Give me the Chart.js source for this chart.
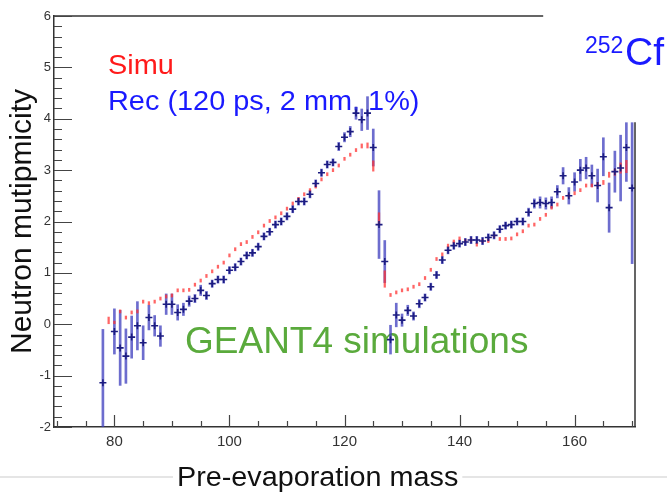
<!DOCTYPE html>
<html>
<head>
<meta charset="utf-8">
<script src="https://cdn.jsdelivr.net/npm/chart.js@4.4.1/dist/chart.umd.min.js"></script>
<style>
  html, body { margin: 0; padding: 0; background: #fff; }
</style>
</head>
<body>
<canvas id="chart" width="667" height="492"></canvas>
<script>
// Pre-evaporation mass bins (78 .. 170)
const masses = [78, 79, 80, 81, 82, 83, 84, 85, 86, 87, 88, 89, 90, 91, 92, 93, 94, 95, 96, 97,
  98, 99, 100, 101, 102, 103, 104, 105, 106, 107, 108, 109, 110, 111, 112, 113, 114, 115, 116, 117,
  118, 119, 120, 121, 122, 123, 124, 125, 126, 127, 128, 129, 130, 131, 132, 133, 134, 135, 136, 137,
  138, 139, 140, 141, 142, 143, 144, 145, 146, 147, 148, 149, 150, 151, 152, 153, 154, 155, 156, 157,
  158, 159, 160, 161, 162, 163, 164, 165, 166, 167, 168, 169, 170];

// Rec (120 ps, 2 mm, 1%) - blue crosses
const recValues = [-1.14, null, -0.14, -0.46, -0.62, -0.25, -0.03, -0.36, 0.13, -0.03, -0.23, 0.39, 0.39, 0.23, 0.29, 0.45, 0.50, 0.66, 0.56, 0.79,
  0.87, 0.87, 1.05, 1.11, 1.22, 1.34, 1.39, 1.51, 1.71, 1.80, 1.94, 2.00, 2.10, 2.24, 2.39, 2.39, 2.53, 2.74, 2.95, 3.11,
  3.15, 3.46, 3.64, 3.75, 4.11, 3.98, 4.11, 3.44, 1.94, 1.22, -0.30, 0.18, 0.08, 0.27, 0.16, 0.40, 0.52, 0.73, 0.96, 1.25,
  1.44, 1.53, 1.57, 1.60, 1.64, 1.64, 1.62, 1.69, 1.73, 1.85, 1.92, 1.94, 2.00, 2.00, 2.18, 2.35, 2.37, 2.35, 2.37, 2.58,
  2.89, 2.50, 2.77, 3.00, 3.04, 2.89, 2.70, 3.26, 2.27, 2.97, 3.04, 3.44, 2.65];
const recErrors = [1.04, null, 0.44, 0.73, 0.53, 0.41, 0.47, 0.33, 0.24, 0.20, 0.20, 0.20, 0.20, 0.15, 0.12, 0.10, 0.08, 0.10, 0.08, 0.07,
  0.07, 0.07, 0.07, 0.07, 0.07, 0.07, 0.07, 0.07, 0.07, 0.07, 0.07, 0.07, 0.07, 0.07, 0.07, 0.07, 0.07, 0.07, 0.07, 0.07,
  0.07, 0.08, 0.09, 0.10, 0.12, 0.21, 0.32, 0.36, 0.66, 0.41, 0.28, 0.23, 0.12, 0.10, 0.08, 0.08, 0.07, 0.07, 0.07, 0.07,
  0.07, 0.07, 0.07, 0.07, 0.07, 0.07, 0.07, 0.07, 0.07, 0.07, 0.07, 0.07, 0.07, 0.07, 0.08, 0.09, 0.11, 0.11, 0.11, 0.12,
  0.16, 0.16, 0.18, 0.21, 0.21, 0.21, 0.32, 0.37, 0.48, 0.40, 0.64, 0.66, 1.47];

// Simu - red points
const simuValues = [null, 0.07, 0.03, 0.25, 0.13, 0.23, 0.25, 0.44, 0.41, 0.44, 0.50, 0.54, 0.56, 0.66, 0.66, 0.67, 0.77, 0.85, 0.94, 1.03,
  1.12, 1.20, 1.34, 1.46, 1.56, 1.60, 1.70, 1.79, 1.92, 2.01, 2.08, 2.16, 2.25, 2.35, 2.44, 2.53, 2.61, 2.68, 2.82, 2.92,
  3.00, 3.09, 3.22, 3.30, 3.39, 3.47, 3.48, 3.08, 2.05, 0.88, 0.57, 0.62, 0.66, 0.68, 0.73, 0.78, 0.90, 1.06, 1.27, 1.36,
  1.53, 1.61, 1.67, 1.62, 1.64, 1.55, 1.62, 1.62, 1.72, 1.66, 1.66, 1.67, 1.75, 1.81, 1.92, 1.94, 2.05, 2.13, 2.27, 2.33,
  2.46, 2.50, 2.55, 2.61, 2.70, 2.70, 2.72, 2.76, 2.91, 2.96, 3.04, 3.07, null];
const simuErrors = [null, 0.07, 0.03, 0.03, 0.03, 0.03, 0.03, 0.03, 0.03, 0.03, 0.03, 0.03, 0.03, 0.03, 0.03, 0.03, 0.03, 0.03, 0.03, 0.03,
  0.03, 0.03, 0.03, 0.03, 0.03, 0.03, 0.03, 0.03, 0.03, 0.03, 0.03, 0.03, 0.03, 0.03, 0.03, 0.03, 0.03, 0.03, 0.03, 0.03,
  0.03, 0.03, 0.03, 0.03, 0.03, 0.04, 0.05, 0.10, 0.12, 0.16, 0.03, 0.03, 0.03, 0.03, 0.03, 0.03, 0.03, 0.03, 0.03, 0.03,
  0.03, 0.03, 0.03, 0.03, 0.03, 0.03, 0.03, 0.03, 0.03, 0.03, 0.03, 0.03, 0.03, 0.03, 0.03, 0.03, 0.03, 0.03, 0.03, 0.03,
  0.03, 0.03, 0.03, 0.03, 0.03, 0.03, 0.04, 0.04, 0.05, 0.06, 0.10, 0.12, null];

const yTicks = [-2, -1, 0, 1, 2, 3, 4, 5, 6];
const xLabels = [80, 100, 120, 140, 160];

// build error bar ranges and points
const recBars = [], recPoints = [], simuBars = [];
masses.forEach((m, i) => {
  if (recValues[i] !== null) {
    recBars.push({ x: m, y: [recValues[i] - recErrors[i], recValues[i] + recErrors[i]] });
    recPoints.push({ x: m, y: recValues[i] });
  }
  if (simuValues[i] !== null) {
    simuBars.push({ x: m, y: [simuValues[i] - simuErrors[i], simuValues[i] + simuErrors[i]] });
  }
});

const font = '"Liberation Sans", Arial, sans-serif';

// text a bit wider than the font, like the slide
function wideText(ctx, str, x, y, sx) {
  ctx.save();
  ctx.translate(x, y);
  ctx.scale(sx, 1);
  ctx.fillText(str, 0, 0);
  ctx.restore();
}

// inner ticks and the partial frame like in the ROOT picture
const frameTicks = {
  id: 'frameTicks',
  afterDatasetsDraw(chart) {
    const { ctx, chartArea: a, scales: { x, y } } = chart;
    ctx.save();
    // slide box that hides the top right corner of the frame
    const cut = a.left + (a.right - a.left) * 0.842;
    const cutY = y.getPixelForValue(3.93);
    ctx.fillStyle = '#fff';
    ctx.fillRect(cut, 0, chart.width - cut, cutY);

    ctx.strokeStyle = '#333';
    ctx.lineWidth = 1.5;
    ctx.beginPath();
    ctx.moveTo(a.left, a.top);
    ctx.lineTo(cut, a.top);
    ctx.moveTo(a.right, cutY);
    ctx.lineTo(a.right, a.bottom);
    ctx.stroke();

    ctx.lineWidth = 1.2;
    ctx.strokeStyle = '#444';
    ctx.beginPath();
    for (let k = 0; k <= 40; k++) {
      const v = -2 + k * 0.2;
      const py = Math.round(y.getPixelForValue(v)) + 0.5;
      const len = (k % 5 === 0) ? 18 : 8;
      ctx.moveTo(a.left, py);
      ctx.lineTo(a.left + len, py);
    }
    for (let v = 70; v <= 170; v += 5) {
      const px = Math.round(x.getPixelForValue(v)) + 0.5;
      const len = (v % 20 === 0) ? 12 : 6;
      ctx.moveTo(px, a.bottom);
      ctx.lineTo(px, a.bottom - len);
    }
    ctx.stroke();
    ctx.restore();
  }
};

const texts = {
  id: 'texts',
  beforeDatasetsDraw(chart) {
    const ctx = chart.ctx;
    ctx.save();
    ctx.textBaseline = 'alphabetic';
    ctx.textAlign = 'left';
    ctx.font = '27px ' + font;
    ctx.fillStyle = '#ff1a1a';
    wideText(ctx, 'Simu', 108, 74, 1.07);
    ctx.fillStyle = '#1a1aff';
    wideText(ctx, 'Rec (120 ps, 2 mm, 1%)', 108, 110, 1.07);
    ctx.font = '37px ' + font;
    ctx.fillStyle = '#5aaa3c';
    ctx.fillText('GEANT4 simulations', 185, 353);
    ctx.restore();
  },
  afterDraw(chart) {
    const ctx = chart.ctx;
    ctx.save();
    // slide separator line behind the axis title
    ctx.strokeStyle = '#dcdcdc';
    ctx.lineWidth = 1.5;
    ctx.beginPath();
    ctx.moveTo(0, 477);
    ctx.lineTo(chart.width, 477);
    ctx.stroke();
    ctx.font = '27px ' + font;
    const title = 'Pre-evaporation mass';
    const w = ctx.measureText(title).width * 1.065;
    ctx.fillStyle = '#fff';
    ctx.fillRect(173, 466, w + 8, 26);
    ctx.fillStyle = '#111';
    ctx.textBaseline = 'alphabetic';
    wideText(ctx, title, 177, 486, 1.065);

    ctx.fillStyle = '#1a1aff';
    ctx.font = '23px ' + font;
    ctx.fillText('252', 585, 53);
    ctx.font = '39px ' + font;
    ctx.fillText('Cf', 625, 65);
    ctx.restore();
  }
};

new Chart(document.getElementById('chart'), {
  type: 'bar',
  data: {
    datasets: [
      {
        type: 'scatter',
        data: recPoints,
        pointStyle: 'cross',
        pointRadius: 3.5,
        pointHoverRadius: 3.5,
        borderColor: '#1c1c80',
        borderWidth: 1.6,
        order: 1
      },
      {
        data: simuBars,
        backgroundColor: 'rgba(255, 50, 50, 0.75)',
        barThickness: 1.6,
        grouped: false,
        order: 2
      },
      {
        data: recBars,
        backgroundColor: 'rgba(60, 60, 190, 0.75)',
        barThickness: 2,
        grouped: false,
        order: 3
      }
    ]
  },
  options: {
    responsive: false,
    animation: false,
    devicePixelRatio: 1,
    layout: { padding: { top: 16, right: 32, left: 0, bottom: 0 } },
    plugins: { legend: { display: false }, tooltip: { enabled: false } },
    scales: {
      x: {
        type: 'linear',
        min: 69.5,
        max: 170.5,
        offset: false,
        afterFit: s => { s.height = 65; },
        grid: { drawOnChartArea: false, drawTicks: false },
        border: { display: true, color: '#333', width: 1.5 },
        ticks: {
          stepSize: 20,
          includeBounds: false,
          padding: 6,
          maxRotation: 0,
          color: '#333',
          font: { family: font, size: 15 },
          callback: v => xLabels.includes(v) ? String(v) : ''
        }
      },
      y: {
        min: yTicks[0],
        max: yTicks[yTicks.length - 1],
        afterFit: s => { s.width = 54; },
        grid: { drawOnChartArea: false, drawTicks: false },
        border: { display: true, color: '#333', width: 1.5 },
        ticks: {
          stepSize: 1,
          padding: 3,
          color: '#333',
          font: { family: font, size: 13 }
        },
        title: {
          display: true,
          text: 'Neutron mutipmicity',
          color: '#111',
          font: { family: font, size: 30 },
          padding: { top: 5, bottom: 0 }
        }
      }
    }
  },
  plugins: [frameTicks, texts]
});
</script>
</body>
</html>
